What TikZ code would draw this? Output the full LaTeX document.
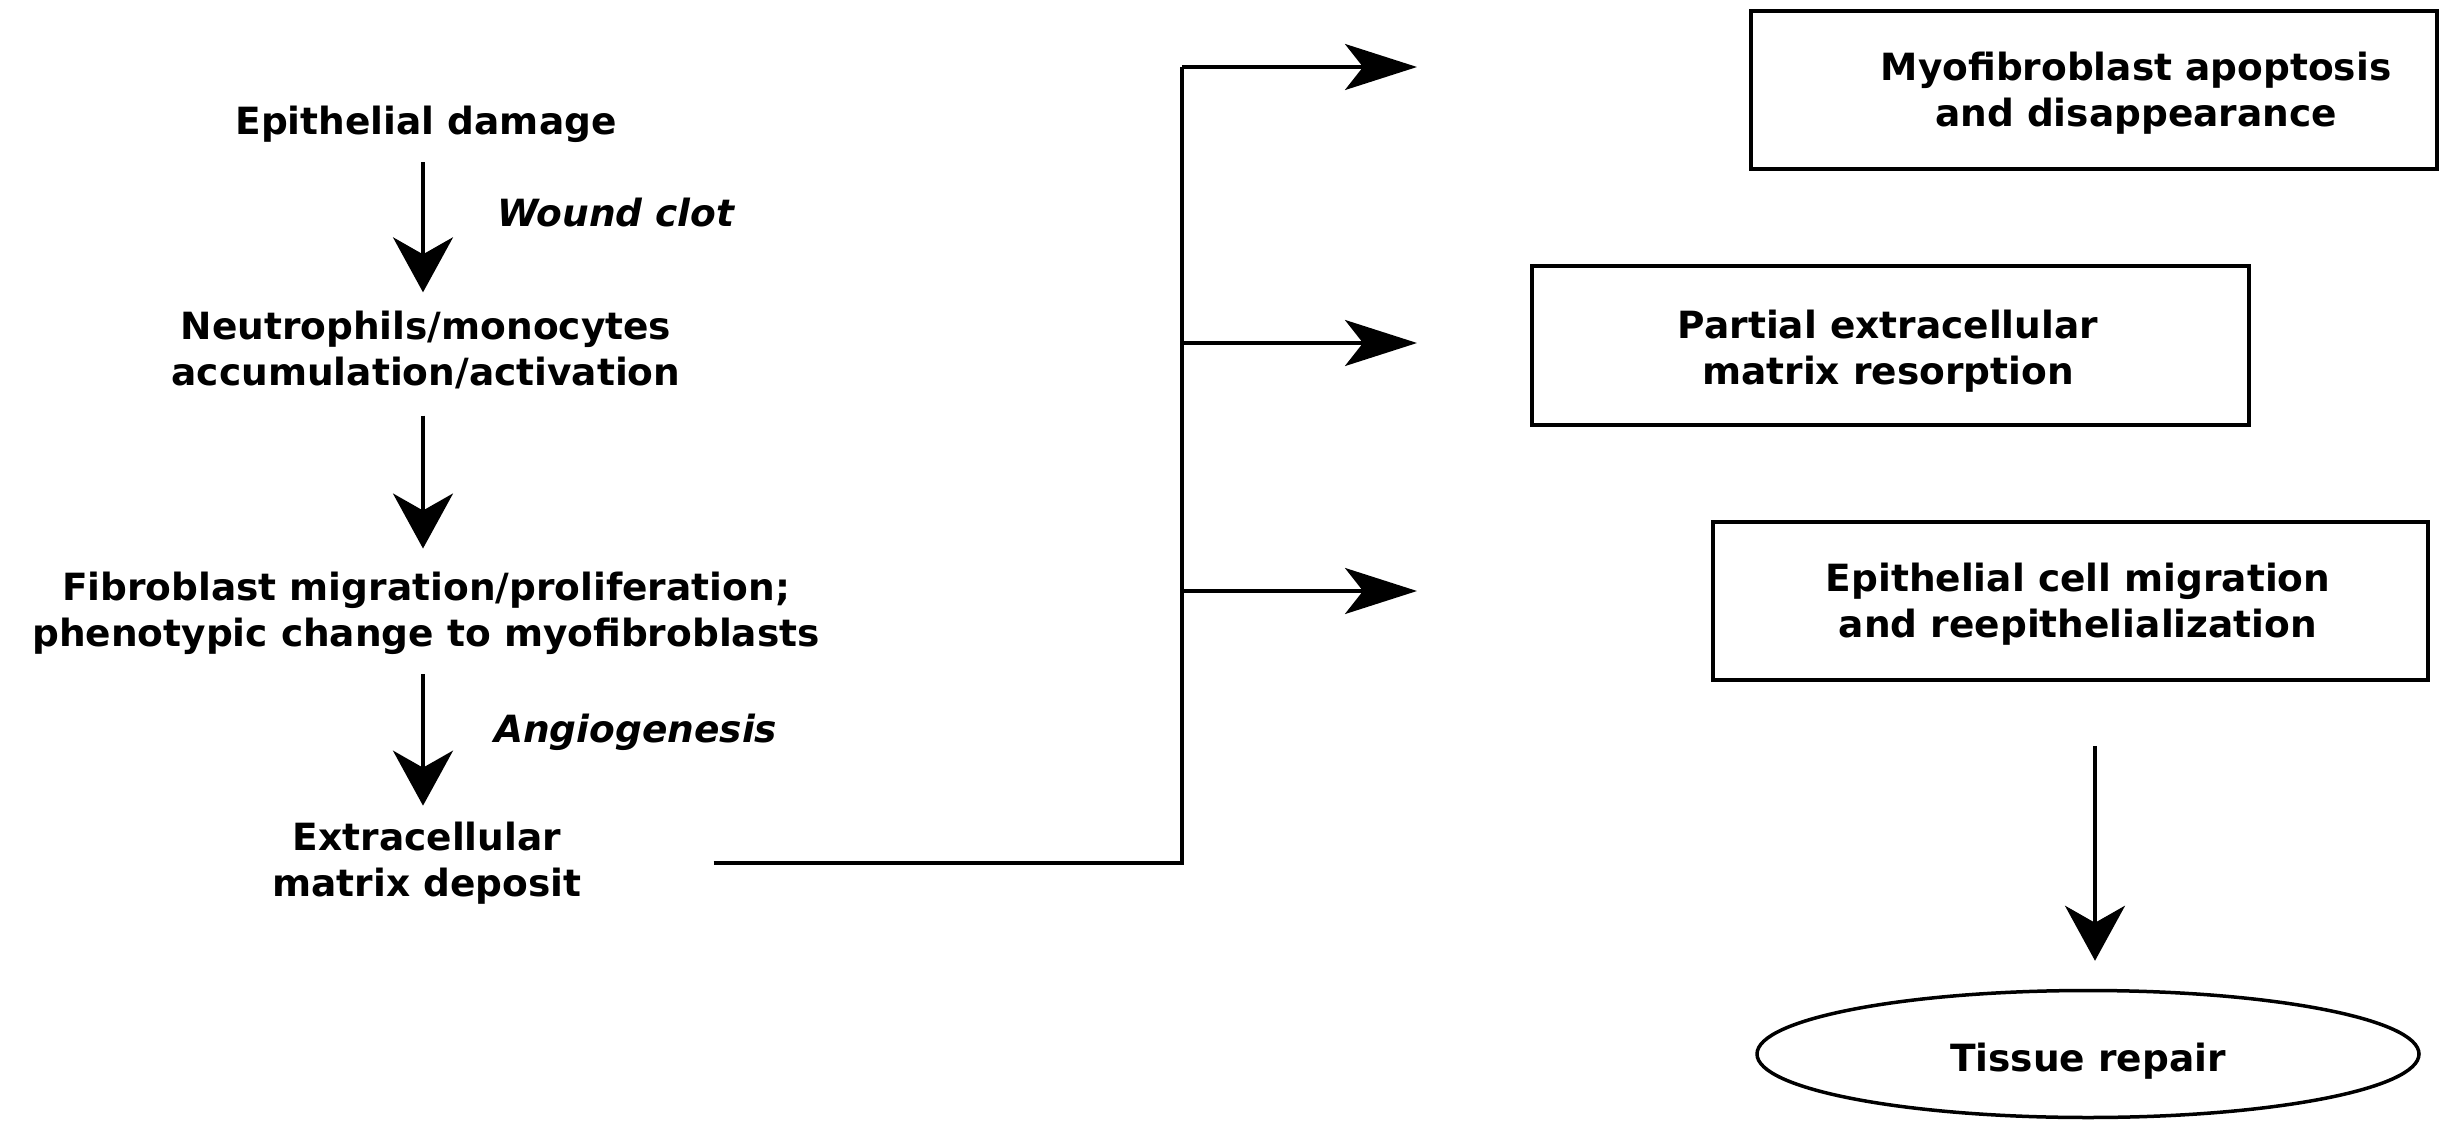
\documentclass[tikz,border=0pt]{standalone}
\usepackage{fontspec}
\setmainfont{DejaVu Sans}
\usetikzlibrary{arrows.meta,shapes.geometric}
\begin{document}
\begin{tikzpicture}[x=1pt,y=-1pt,
  txt/.style={font=\fontsize{37.5}{46}\selectfont\bfseries, inner sep=0pt, align=center},
  lbl/.style={font=\fontsize{37.5}{46}\selectfont\bfseries\itshape, inner sep=0pt},
  box/.style={draw, line width=3.5pt, inner sep=0pt},
  ell/.style={draw, ellipse, line width=3.5pt, inner sep=0pt, font=\fontsize{37.5}{46}\selectfont\bfseries},
  conn/.style={line width=3.5pt},
  varrow/.style={line width=3.5pt, -{Stealth[length=55pt, width=60pt, inset=17pt]}},
  harrow/.style={line width=3.5pt, -{Stealth[length=72pt, width=46pt, inset=18pt]}},
]
\fill[white] (0,0) rectangle (2461,1121);
\useasboundingbox (0,0) rectangle (2461,1121);

% left column
\node[txt, anchor=base] (ed) at (426,135) {Epithelial damage};
\node[lbl, anchor=base west] (wc) at (497,226) {Wound clot};
\node[txt] (nm) at (426,349.5) {Neutrophils/monocytes\\accumulation/activation};
\node[txt] (fb) at (426,613) {Fibroblast migration/proliferation;\\phenotypic change to myofibroblasts};
\node[lbl, anchor=base west] (ag) at (494,742) {Angiogenesis};
\node[txt] (ecm) at (427,863) {Extracellular\\matrix deposit};

% right column boxes
\node[box, minimum width=686pt, minimum height=158pt] (b1) at (2094,90) {};
\node[txt] (t1) at (2136,93) {Myofibroblast apoptosis\\and disappearance};
\node[box, minimum width=717pt, minimum height=159pt] (b2) at (1890.5,345.5) {};
\node[txt] (t2) at (1888,351) {Partial extracellular\\matrix resorption};
\node[box, minimum width=715pt, minimum height=158pt] (b3) at (2070.5,601) {};
\node[txt] (t3) at (2078,604) {Epithelial cell migration\\and reepithelialization};
\node[ell, minimum width=662pt, minimum height=127pt, text height=44.5pt, text depth=9pt] (tr) at (2088,1054) {Tissue repair};

% junction coordinates
\coordinate (jt) at (1182,67);
\coordinate (jm) at (1182,343);
\coordinate (jl) at (1182,591);
\coordinate (p1) at (1417,67);
\coordinate (p2) at (1417,343);
\coordinate (p3) at (1417,591);

% vertical arrows
\draw[varrow, shorten <=19pt, shorten >=18pt] ([xshift=-3pt]ed.south) -- ([xshift=-3pt]ed.south |- nm.north);
\draw[varrow, shorten <=27pt, shorten >=23pt] ([xshift=-3pt]nm.south) -- ([xshift=-3pt]nm.south |- fb.north);
\draw[varrow, shorten <=20pt, shorten >=16pt] ([xshift=-3pt]nm.south |- fb.south) -- ([xshift=-3pt]nm.south |- ecm.north);
\draw[varrow, shorten <=64pt, shorten >=28pt] ([xshift=7pt]tr.north |- b3.south) -- ([xshift=7pt]tr.north);

% branch connector
\draw[conn, shorten <=132pt] (ecm.east) -| (jt);
\draw[harrow] (jt) -- (p1);
\draw[harrow] (jm) -- (p2);
\draw[harrow] (jl) -- (p3);
\end{tikzpicture}
\end{document}
